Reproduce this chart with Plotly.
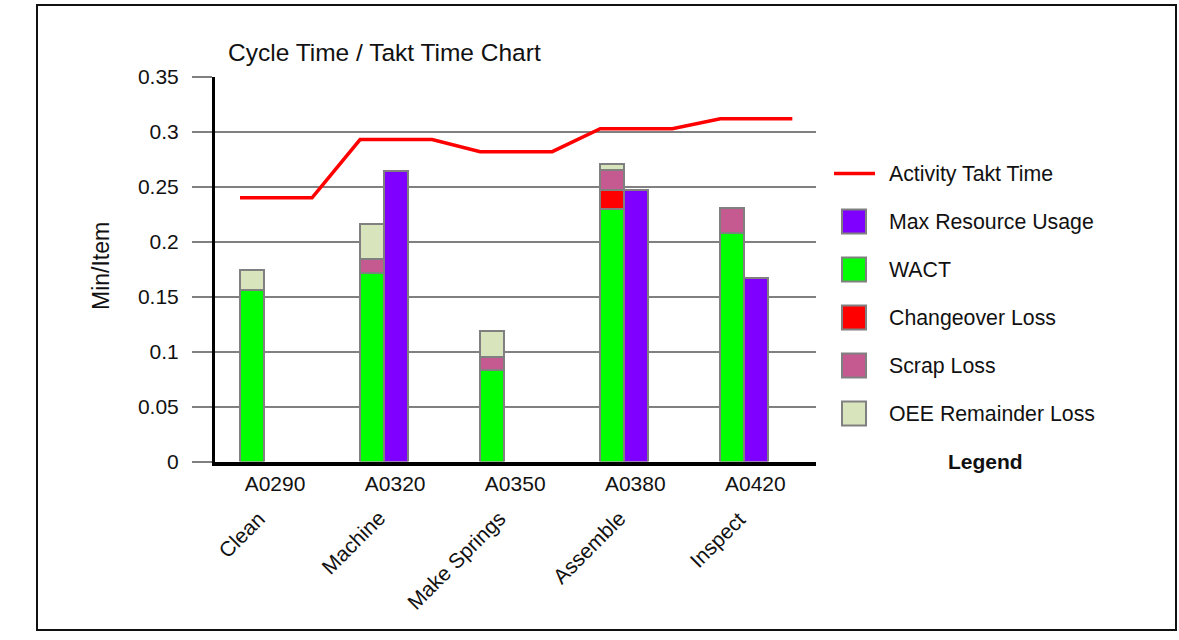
import plotly.graph_objects as go

# ---- chart data (Min/Item) ----
CATEGORY_CODES = ["A0290", "A0320", "A0350", "A0380", "A0420"]
ACTIVITY_NAMES = ["Clean", "Machine", "Make Springs", "Assemble", "Inspect"]
WACT = [0.156, 0.172, 0.083, 0.230, 0.208]
CHANGEOVER_LOSS = [0.0, 0.0, 0.0, 0.017, 0.0]
SCRAP_LOSS = [0.0, 0.012, 0.012, 0.018, 0.023]
OEE_REMAINDER_LOSS = [0.018, 0.032, 0.024, 0.006, 0.0]
MAX_RESOURCE_USAGE = [None, 0.264, None, 0.247, 0.167]
TAKT_TIME = [0.240, 0.293, 0.282, 0.303, 0.312]

# ---- styling ----
W, H = 1179, 640
FONT = "Liberation Sans, Arial, sans-serif"
OUTLINE = "#808080"
COLORS = {
    "Max Resource Usage": "#7F00FF",
    "WACT": "#00FF00",
    "Changeover Loss": "#FF0000",
    "Scrap Loss": "#C55A90",
    "OEE Remainder Loss": "#D8E4BC",
}
TAKT_COLOR = "#FF0000"

STACK_OFFSET = -0.192   # stacked bar, left of each category centre
RESOURCE_OFFSET = 0.008  # resource bar, right next to the stack
BAR_WIDTH = 0.2
TAKT_SPAN = (-0.292, 0.308)


def px(x):
    return x / W


def py(y):
    return 1 - y / H


def nz(values):
    return [v if v else None for v in values]


idx = list(range(len(CATEGORY_CODES)))
stack_x = [i + STACK_OFFSET for i in idx]
res_x = [i + RESOURCE_OFFSET for i in idx]

fig = go.Figure()

stack_series = [
    ("WACT", WACT),
    ("Changeover Loss", CHANGEOVER_LOSS),
    ("Scrap Loss", SCRAP_LOSS),
    ("OEE Remainder Loss", OEE_REMAINDER_LOSS),
]
for name, vals in stack_series:
    fig.add_trace(go.Bar(
        x=stack_x, y=nz(vals), name=name, width=BAR_WIDTH,
        marker=dict(color=COLORS[name], line=dict(color=OUTLINE, width=2)),
        showlegend=False,
    ))

fig.add_trace(go.Bar(
    x=res_x, y=MAX_RESOURCE_USAGE, name="Max Resource Usage", width=BAR_WIDTH,
    marker=dict(color=COLORS["Max Resource Usage"], line=dict(color=OUTLINE, width=2)),
    showlegend=False,
))

# Takt time: a flat segment across each activity, joined between activities
takt_x, takt_y = [], []
for i, t in zip(idx, TAKT_TIME):
    takt_x += [i + TAKT_SPAN[0], i + TAKT_SPAN[1]]
    takt_y += [t, t]
fig.add_trace(go.Scatter(
    x=takt_x, y=takt_y, mode="lines", name="Activity Takt Time",
    line=dict(color=TAKT_COLOR, width=3.5), showlegend=False,
))

shapes = []
annotations = []

# outer frame
shapes.append(dict(type="rect", xref="paper", yref="paper",
                   x0=px(37), x1=px(1176), y0=py(630), y1=py(5),
                   line=dict(color="#111111", width=2), layer="below"))

# title and axis title
annotations.append(dict(text="Cycle Time / Takt Time Chart", xref="paper", yref="paper",
                        x=px(226), y=py(53), xanchor="left", yanchor="middle",
                        showarrow=False, font=dict(size=24.5, color="#111111", family=FONT)))
annotations.append(dict(text="Min/Item", xref="paper", yref="paper",
                        x=px(101), y=py(266), xanchor="center", yanchor="middle",
                        textangle=-90, showarrow=False,
                        font=dict(size=23, color="#111111", family=FONT)))

# rotated activity names under the codes
for i, name in zip(idx, ACTIVITY_NAMES):
    annotations.append(dict(text=name, xref="x", yref="paper",
                            x=i - 3 / 120, y=py(504), xanchor="right", yanchor="top",
                            textangle=-45, showarrow=False,
                            font=dict(size=21, color="#111111", family=FONT)))

# legend
legend_rows = [
    ("Max Resource Usage", 221.5),
    ("WACT", 269.5),
    ("Changeover Loss", 317.5),
    ("Scrap Loss", 365.5),
    ("OEE Remainder Loss", 413.5),
]
shapes.append(dict(type="line", xref="paper", yref="paper",
                   x0=px(834), x1=px(875), y0=py(173.5), y1=py(173.5),
                   line=dict(color=TAKT_COLOR, width=3.5)))
annotations.append(dict(text="Activity Takt Time", xref="paper", yref="paper",
                        x=px(887), y=py(173.5), xanchor="left", yanchor="middle",
                        showarrow=False, font=dict(size=21.3, color="#111111", family=FONT)))
for name, yc in legend_rows:
    shapes.append(dict(type="rect", xref="paper", yref="paper",
                       x0=px(842), x1=px(866), y0=py(yc + 12), y1=py(yc - 12),
                       fillcolor=COLORS[name], line=dict(color=OUTLINE, width=2)))
    annotations.append(dict(text=name, xref="paper", yref="paper",
                            x=px(887), y=py(yc), xanchor="left", yanchor="middle",
                            showarrow=False, font=dict(size=21.3, color="#111111", family=FONT)))
annotations.append(dict(text="<b>Legend</b>", xref="paper", yref="paper",
                        x=px(985), y=py(461.5), xanchor="center", yanchor="middle",
                        showarrow=False, font=dict(size=21, color="#111111", family=FONT)))

fig.update_layout(
    width=W, height=H,
    margin=dict(l=0, r=0, t=0, b=0),
    paper_bgcolor="white", plot_bgcolor="white",
    barmode="stack", bargap=0,
    showlegend=False,
    font=dict(family=FONT, color="#111111"),
    shapes=shapes, annotations=annotations,
    xaxis=dict(
        domain=[px(215), px(816)], range=[-0.5, 4.505],
        tickmode="array", tickvals=idx, ticktext=CATEGORY_CODES,
        tickfont=dict(size=21, family=FONT, color="#111111"),
        ticks="", showgrid=False, zeroline=False,
        showline=True, linecolor="black", linewidth=4,
        automargin=False, fixedrange=True,
    ),
    yaxis=dict(
        domain=[py(461.5), py(77)], range=[0, 0.35],
        tickmode="array", tickvals=[0, 0.05, 0.1, 0.15, 0.2, 0.25, 0.3, 0.35],
        ticktext=["0", "0.05", "0.1", "0.15", "0.2", "0.25", "0.3", "0.35"],
        tickfont=dict(size=21, family=FONT, color="#111111"),
        ticks="outside", ticklen=20, tickwidth=2, tickcolor=OUTLINE,
        ticklabelstandoff=9,
        showgrid=True, gridcolor=OUTLINE, gridwidth=2,
        zeroline=False,
        showline=True, linecolor="black", linewidth=3,
        automargin=False, fixedrange=True,
    ),
)

fig.write_html("out.html")
